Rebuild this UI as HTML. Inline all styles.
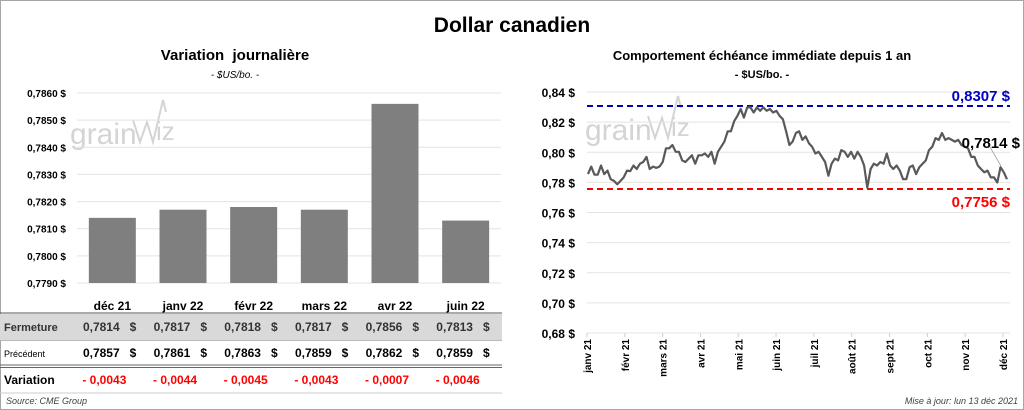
<!DOCTYPE html>
<html><head><meta charset="utf-8"><style>
body{margin:0;background:#fff;}
svg{display:block;font-family:"Liberation Sans",sans-serif;}
.pre{white-space:pre;}
</style></head><body>
<svg id="chart" width="1024" height="410" viewBox="0 0 1024 410" xmlns="http://www.w3.org/2000/svg">
<rect x="0.5" y="0.5" width="1023" height="409" fill="#fff" stroke="#a6a6a6"/>
<text x="512" y="32" text-anchor="middle" font-size="21" font-weight="bold">Dollar canadien</text>
<text x="235" y="60" text-anchor="middle" font-size="15" font-weight="bold" class="pre">Variation  journalière</text>
<text x="235" y="78" text-anchor="middle" font-size="10" font-style="italic">- $US/bo. -</text>
<text x="762" y="60" text-anchor="middle" font-size="13" font-weight="bold">Comportement échéance immédiate depuis 1 an</text>
<text x="762" y="78" text-anchor="middle" font-size="11" font-weight="bold">- $US/bo. -</text>
<g fill="#d4d4d4" font-size="30">
<text x="70" y="144">grain</text>
<text x="585" y="140">grain</text>
<polyline points="133,120 140,142 147,122 153,142 163,100 166,112" fill="none" stroke="#d4d4d4" stroke-width="2"/>
<text x="156" y="140" font-size="26">iz</text>
<polyline points="648,116 655,138 662,118 668,138 678,96 681,108" fill="none" stroke="#d4d4d4" stroke-width="2"/>
<text x="671" y="136" font-size="26">iz</text>
</g>
<g id="left"></g>
<g id="table"></g>
<g id="right"></g>
<text x="6" y="404" font-size="9" font-style="italic" fill="#404040">Source: CME Group</text>
<text x="1018" y="404" text-anchor="end" font-size="9" font-style="italic" fill="#404040">Mise à jour: lun 13 déc 2021</text>
</svg>
<script>
const barCategories=["déc 21","janv 22","févr 22","mars 22","avr 22","juin 22"];
const closeValues=[0.7814,0.7817,0.7818,0.7817,0.7856,0.7813];
const prevValues=[0.7857,0.7861,0.7863,0.7859,0.7862,0.7859];
const variationLabels=["- 0,0043","- 0,0044","- 0,0045","- 0,0043","- 0,0007","- 0,0046"];
const leftTicks=[0.7790,0.7800,0.7810,0.7820,0.7830,0.7840,0.7850,0.7860];
const rightTicks=[0.68,0.70,0.72,0.74,0.76,0.78,0.80,0.82,0.84];
const monthLabels=["janv 21","févr 21","mars 21","avr 21","mai 21","juin 21","juil 21","août 21","sept 21","oct 21","nov 21","déc 21"];
const yearHigh=0.8307, yearLow=0.7756, lastValue=0.7814;
const dailyValues=[0.7855,0.7905,0.7851,0.7851,0.7912,0.7855,0.7878,0.7821,0.7810,0.7787,0.7810,0.7833,0.7878,0.7874,0.7912,0.7889,0.7924,0.7935,0.7969,0.7889,0.7905,0.7896,0.7905,0.7935,0.8026,0.8026,0.8048,0.8003,0.8003,0.7946,0.7935,0.7958,0.7980,0.7924,0.7980,0.7980,0.7992,0.7969,0.8003,0.7924,0.8003,0.8037,0.8071,0.8139,0.8139,0.8207,0.8241,0.8287,0.8230,0.8298,0.8298,0.8264,0.8298,0.8275,0.8298,0.8275,0.8287,0.8264,0.8275,0.8241,0.8219,0.8139,0.8048,0.8071,0.8128,0.8139,0.8082,0.8105,0.8060,0.8037,0.7992,0.8003,0.7969,0.7935,0.7844,0.7924,0.7958,0.7946,0.8014,0.8003,0.7969,0.8003,0.7958,0.8003,0.7969,0.7912,0.7765,0.7889,0.7924,0.7912,0.7935,0.7924,0.7992,0.7912,0.7889,0.7912,0.7878,0.7821,0.7821,0.7901,0.7912,0.7855,0.7901,0.7924,0.7946,0.8014,0.8037,0.8094,0.8082,0.8128,0.8082,0.8094,0.8082,0.8071,0.8082,0.8048,0.8037,0.8026,0.7969,0.7969,0.7912,0.7889,0.7867,0.7878,0.7833,0.7833,0.7799,0.7901,0.7867,0.7821];

const NS="http://www.w3.org/2000/svg";
function mk(parent,tag,attrs,text){const e=document.createElementNS(NS,tag);for(const k in attrs)e.setAttribute(k,attrs[k]);if(text!==undefined)e.textContent=text;parent.appendChild(e);return e;}
const fmt=(v,d)=>v.toFixed(d).replace('.',',');

// left bar chart
const L=document.getElementById('left');
const lx0=77,lx1=501,ly0=283,ly1=93;
const ly=v=>ly0-(v-0.7790)/(0.7860-0.7790)*(ly0-ly1);
const band=(lx1-lx0)/barCategories.length;
const bx=i=>lx0+band*(i+0.5);
leftTicks.forEach(t=>{
  const g=mk(L,'line',{x1:lx0,x2:lx1,y1:ly(t),y2:ly(t),stroke:'#e3e3e3'});
  
  
  const tx=mk(L,'text',{x:66,y:ly(t)+4,'text-anchor':'end','font-size':10,'font-weight':'bold'},fmt(t,4)+' $');
  
  
});
closeValues.forEach((v,i)=>{
  const r=mk(L,'rect',{x:bx(i)-23.5,y:ly(v),width:47,height:ly0-ly(v),fill:'#7f7f7f'});
  
  
});

// table
const T=document.getElementById('table');
mk(T,'rect',{x:0,y:314,width:502,height:26,fill:'#d9d9d9'});
mk(T,'line',{x1:0,x2:502,y1:313,y2:313,stroke:'#555',"stroke-width":1});
mk(T,'line',{x1:0,x2:502,y1:340.5,y2:340.5,stroke:'#bbb'});
mk(T,'line',{x1:0,x2:502,y1:365,y2:365,stroke:'#666'});
mk(T,'line',{x1:0,x2:502,y1:367.5,y2:367.5,stroke:'#666'});
mk(T,'line',{x1:0,x2:502,y1:393,y2:393,stroke:'#ccc'});
let e;
e=mk(T,'text',{x:4,y:331,'font-size':11,'font-weight':'bold',fill:'#333'},'Fermeture');

e=mk(T,'text',{x:4,y:357,'font-size':9},'Précédent');

e=mk(T,'text',{x:4,y:384,'font-size':12,'font-weight':'bold'},'Variation');

barCategories.forEach((c,i)=>{
  const cx=bx(i);
  let t=mk(T,'text',{x:cx,y:310,'text-anchor':'middle','font-size':12,'font-weight':'bold'},c);
  
  
  t=mk(T,'text',{x:cx+24,y:331,'text-anchor':'end','font-size':12,'font-weight':'bold',fill:'#333','class':'pre'},fmt(closeValues[i],4)+'   $');
  
  
  t=mk(T,'text',{x:cx+24,y:357,'text-anchor':'end','font-size':12,'font-weight':'bold','class':'pre'},fmt(prevValues[i],4)+'   $');
  
  
  t=mk(T,'text',{x:cx-30,y:384,'font-size':12,'font-weight':'bold',fill:'#ff0000'},variationLabels[i]);
  
  
});

// right line chart
const R=document.getElementById('right');
const rx0=587,rx1=1010,ry0=333,ry1=92;
const ry=v=>ry0-(v-0.68)/(0.84-0.68)*(ry0-ry1);
rightTicks.forEach(t=>{
  const g=mk(R,'line',{x1:rx0,x2:rx1,y1:ry(t),y2:ry(t),stroke:'#e3e3e3'});
  
  
  const tx=mk(R,'text',{x:575,y:ry(t)+5,'text-anchor':'end','font-size':12,'font-weight':'bold'},fmt(t,2)+' $');
  
  
});
const mStep=(1003-587)/(monthLabels.length-1);
monthLabels.forEach((m,i)=>{
  const x=587+mStep*i;
  mk(R,'line',{x1:x,x2:x,y1:ry0,y2:ry0+4,stroke:'#d0d0d0'});
  const t=mk(R,'text',{x:0,y:0,transform:`translate(${x+4},${ry0+6}) rotate(-90)`,'text-anchor':'end','font-size':10,'font-weight':'bold'},m);
  
  
});
let hl=mk(R,'line',{x1:rx0,x2:rx1,y1:ry(yearHigh),y2:ry(yearHigh),stroke:'#0000c0','stroke-width':2,'stroke-dasharray':'6,4'});

hl=mk(R,'line',{x1:rx0,x2:rx1,y1:ry(yearLow),y2:ry(yearLow),stroke:'#ff0000','stroke-width':2,'stroke-dasharray':'6,4'});

const lxs=i=>588+(1007-588)*i/(dailyValues.length-1);
const pts=dailyValues.map((v,i)=>lxs(i).toFixed(1)+','+ry(v).toFixed(1)).join(' ');
const pl=mk(R,'polyline',{points:pts,fill:'none',stroke:'#595959','stroke-width':2.2,'stroke-linejoin':'round'});


mk(R,'line',{x1:990,y1:147,x2:1001,y2:166,stroke:'#a0a0a0','stroke-width':0.8});
let lb=mk(R,'text',{x:1010,y:ry(yearHigh)-5,'text-anchor':'end','font-size':15,'font-weight':'bold',fill:'#0000c0'},fmt(yearHigh,4)+' $');

lb=mk(R,'text',{x:1010,y:ry(yearLow)+18,'text-anchor':'end','font-size':15,'font-weight':'bold',fill:'#ff0000'},fmt(yearLow,4)+' $');

lb=mk(R,'text',{x:1020,y:148,'text-anchor':'end','font-size':15,'font-weight':'bold'},fmt(lastValue,4)+' $');

</script>
</body></html>
